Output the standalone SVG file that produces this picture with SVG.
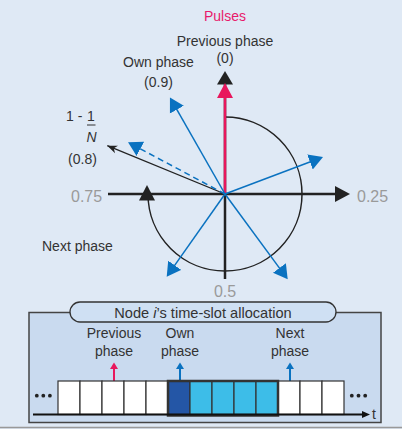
<svg xmlns="http://www.w3.org/2000/svg" width="402" height="429" viewBox="0 0 402 429">
<style>
text{font-family:"Liberation Sans",Arial,sans-serif;fill:#333}
.lbl{font-size:14px}
.num{font-size:16px;fill:#9a9a9a}
.blue{stroke:#0a72c0;stroke-width:1.5;fill:none}
.slot{fill:#fff;stroke:#333;stroke-width:1.2}
</style>
<defs>
<marker id="bh" markerUnits="userSpaceOnUse" markerWidth="16" markerHeight="17" refX="2" refY="8" orient="auto" viewBox="0 0 16 16">
<path d="M0,0 L14,8 L0,16 z" fill="#0a72c0"/>
</marker>
<marker id="kh" markerUnits="userSpaceOnUse" markerWidth="11" markerHeight="9" refX="10" refY="4" orient="auto" viewBox="0 0 11 8">
<path d="M0,0 L10,4 L0,8 L3,4 z" fill="#222"/>
</marker>
</defs>
<rect width="402" height="429" fill="#dfe9f5"/>

<g id="connectors">
<path d="M225,117 A77,77 0 1 1 148,194" fill="none" stroke="#222" stroke-width="1.5"/>
<line x1="108" y1="194" x2="337" y2="194" stroke="#222" stroke-width="2.5"/>
<polygon points="350,194 335,186 335,202" fill="#222"/>
<line x1="225" y1="279" x2="225" y2="84" stroke="#222" stroke-width="2.5"/>
<polygon points="225,71 217,84.5 233,84.5" fill="#222"/>
<line x1="225" y1="194" x2="225" y2="96" stroke="#e8175d" stroke-width="2.5"/>
<polygon points="225,83 217,98 233,98" fill="#e8175d"/>
<polygon points="147,185 139,200.5 155,200.5" fill="#222"/>
<line x1="225" y1="194" x2="107.3" y2="145.7" stroke="#222" stroke-width="1.3" marker-end="url(#kh)"/>
<line x1="225" y1="194" x2="138.6" y2="147.9" class="blue" stroke-dasharray="6,4" marker-end="url(#bh)"/>
<line x1="225" y1="194" x2="175.9" y2="107.9" class="blue" marker-end="url(#bh)"/>
<line x1="225" y1="194" x2="311.8" y2="161.2" class="blue" marker-end="url(#bh)"/>
<line x1="225" y1="194" x2="173.6" y2="266.9" class="blue" marker-end="url(#bh)"/>
<line x1="225" y1="194" x2="280.6" y2="269.6" class="blue" marker-end="url(#bh)"/>
</g>

<g id="top-labels">
<text x="225" y="20.5" class="lbl" text-anchor="middle" style="fill:#e8196b">Pulses</text>
<text x="225" y="45.5" class="lbl" text-anchor="middle">Previous phase</text>
<text x="225" y="63" class="lbl" text-anchor="middle">(0)</text>
<text x="158.5" y="67" class="lbl" text-anchor="middle">Own phase</text>
<text x="158.5" y="87" class="lbl" text-anchor="middle">(0.9)</text>
<text x="66" y="120.5" class="lbl">1 - </text>
<text x="91" y="120.5" class="lbl" text-anchor="middle">1</text>
<line x1="87" y1="125" x2="95.5" y2="125" stroke="#333" stroke-width="1"/>
<text x="91.5" y="142" class="lbl" text-anchor="middle" font-style="italic">N</text>
<text x="82.5" y="163.5" class="lbl" text-anchor="middle">(0.8)</text>
<text x="71" y="202" class="num">0.75</text>
<text x="357" y="202" class="num">0.25</text>
<text x="225" y="297" class="num" text-anchor="middle">0.5</text>
<text x="42" y="250.5" class="lbl">Next phase</text>
</g>

<g id="panel">
<rect x="29" y="312.5" width="352" height="110" fill="#c9daef" stroke="#444" stroke-width="1.5"/>
<rect x="70" y="302" width="266" height="20" rx="10" ry="10" fill="#cfe0f3" stroke="#333" stroke-width="1.3"/>
<text x="203" y="317.5" text-anchor="middle" style="font-size:14.6px">Node <tspan font-style="italic">i</tspan>’s time-slot allocation</text>
</g>

<g id="slot-labels">
<text x="114" y="338" class="lbl" text-anchor="middle">Previous</text>
<text x="114" y="356" class="lbl" text-anchor="middle">phase</text>
<text x="180" y="338" class="lbl" text-anchor="middle">Own</text>
<text x="180" y="356" class="lbl" text-anchor="middle">phase</text>
<text x="290" y="338" class="lbl" text-anchor="middle">Next</text>
<text x="290" y="356" class="lbl" text-anchor="middle">phase</text>
<line x1="114" y1="381" x2="114" y2="368" stroke="#e8175d" stroke-width="2"/>
<polygon points="114,362.5 110,369 118,369" fill="#e8175d"/>
<line x1="180" y1="381" x2="180" y2="368" stroke="#0a72c0" stroke-width="2"/>
<polygon points="180,362.5 176,369 184,369" fill="#0a72c0"/>
<line x1="290" y1="381" x2="290" y2="368" stroke="#0a72c0" stroke-width="2"/>
<polygon points="290,362.5 286,369 294,369" fill="#0a72c0"/>
</g>

<g id="slots">
<rect x="58" y="381" width="22" height="33.5" class="slot"/>
<rect x="80" y="381" width="22" height="33.5" class="slot"/>
<rect x="102" y="381" width="22" height="33.5" class="slot"/>
<rect x="124" y="381" width="22" height="33.5" class="slot"/>
<rect x="146" y="381" width="22" height="33.5" class="slot"/>
<rect x="168" y="381" width="22" height="33.5" class="slot" style="fill:#2456a6"/>
<rect x="190" y="381" width="22" height="33.5" class="slot" style="fill:#3dbde8"/>
<rect x="212" y="381" width="22" height="33.5" class="slot" style="fill:#3dbde8"/>
<rect x="234" y="381" width="22" height="33.5" class="slot" style="fill:#3dbde8"/>
<rect x="256" y="381" width="22" height="33.5" class="slot" style="fill:#3dbde8"/>
<rect x="278" y="381" width="22" height="33.5" class="slot"/>
<rect x="300" y="381" width="22" height="33.5" class="slot"/>
<rect x="322" y="381" width="22" height="33.5" class="slot"/>
<rect x="168" y="381" width="110" height="34.5" fill="none" stroke="#333" stroke-width="2.5"/>
<circle cx="36.8" cy="395.7" r="1.9" fill="#222"/>
<circle cx="43.3" cy="395.7" r="1.9" fill="#222"/>
<circle cx="49.9" cy="395.7" r="1.9" fill="#222"/>
<circle cx="351.8" cy="395.7" r="1.9" fill="#222"/>
<circle cx="358.5" cy="395.7" r="1.9" fill="#222"/>
<circle cx="365.2" cy="395.7" r="1.9" fill="#222"/>
<line x1="33" y1="414.5" x2="364" y2="414.5" stroke="#111" stroke-width="2"/>
<polygon points="370,414.5 362,411 362,418" fill="#111"/>
<text x="372" y="419" class="lbl">t</text>
</g>
<line x1="0" y1="427.5" x2="402" y2="427.5" stroke="#999" stroke-width="1.5"/>
</svg>
